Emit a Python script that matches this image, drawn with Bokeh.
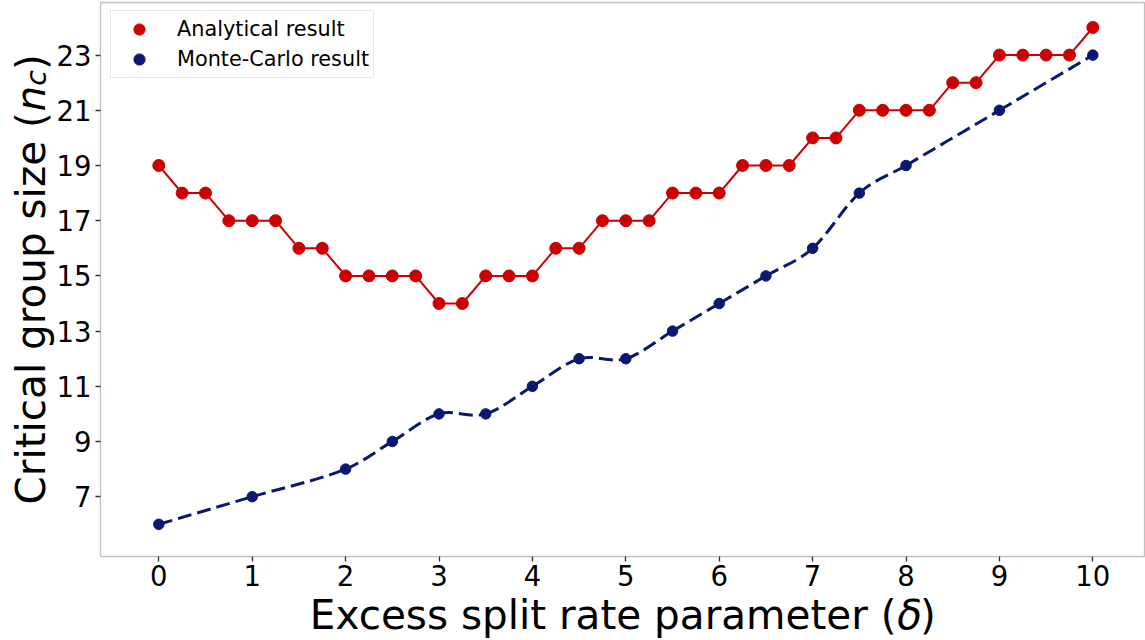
import numpy as np
from bokeh.plotting import figure
from bokeh.models import (Range1d, FixedTicker, Label, Legend, LegendItem,
                          LinearAxis, BoxAnnotation)
from bokeh.embed import file_html
from bokeh.resources import INLINE

# Critical group size versus excess split rate parameter
delta_analytical = [0, 0.25, 0.5, 0.75, 1, 1.25, 1.5, 1.75, 2, 2.25, 2.5, 2.75,
                    3, 3.25, 3.5, 3.75, 4, 4.25, 4.5, 4.75, 5, 5.25, 5.5, 5.75,
                    6, 6.25, 6.5, 6.75, 7, 7.25, 7.5, 7.75, 8, 8.25, 8.5, 8.75,
                    9, 9.25, 9.5, 9.75, 10]
nc_analytical = [19, 18, 18, 17, 17, 17, 16, 16, 15, 15, 15, 15,
                 14, 14, 15, 15, 15, 16, 16, 17, 17, 17, 18, 18,
                 18, 19, 19, 19, 20, 20, 21, 21, 21, 21, 22, 22,
                 23, 23, 23, 23, 24]

delta_mc = [0, 1, 2, 2.5, 3, 3.5, 4, 4.5, 5, 5.5, 6, 6.5, 7, 7.5, 8, 9, 10]
nc_mc = [6, 7, 8, 9, 10, 10, 11, 12, 12, 13, 14, 15, 16, 18, 19, 21, 23]

x_ticks = [0, 1, 2, 3, 4, 5, 6, 7, 8, 9, 10]
y_ticks = [7, 9, 11, 13, 15, 17, 19, 21, 23]

# axes box limits (data units)
x_lim = (-0.624, 10.553)
y_lim = (4.833, 24.906)

FONT = "DejaVu Sans"
RED = "#cc0000"
BLUE = "#0b1872"
SPINE = "#333333"

# The drawing area spans the whole page; the axes box sits inside it so the
# axis titles (with italic symbols) can be placed freely around it.
p = figure(width=1145, height=640, output_backend="svg", toolbar_location=None,
           x_range=Range1d(-1.6949, 10.564), y_range=Range1d(1.790, 24.978),
           x_axis_location=None, y_axis_location=None,
           min_border=0, min_border_left=0, min_border_right=0,
           min_border_top=0, min_border_bottom=0)
p.grid.visible = False
p.background_fill_color = "white"
p.border_fill_color = "white"
p.outline_line_color = None

xaxis = LinearAxis(fixed_location=y_lim[0], bounds=x_lim,
                   ticker=FixedTicker(ticks=x_ticks), major_label_standoff=3)
yaxis = LinearAxis(fixed_location=x_lim[0], bounds=y_lim,
                   ticker=FixedTicker(ticks=y_ticks), major_label_standoff=4)
for ax in (xaxis, yaxis):
    ax.axis_line_color = None
    ax.major_tick_out = 5
    ax.major_tick_in = 0
    ax.minor_tick_out = 0
    ax.minor_tick_in = 0
    ax.major_tick_line_color = SPINE
    ax.major_tick_line_width = 1.3
    ax.major_label_text_font = FONT
    ax.major_label_text_font_size = "27.5px"
    ax.major_label_text_color = "black"
p.add_layout(xaxis, "below")
p.add_layout(yaxis, "left")

# axes box (spines)
p.add_layout(BoxAnnotation(left=x_lim[0], right=x_lim[1], bottom=y_lim[0], top=y_lim[1],
                           fill_alpha=0, line_color=SPINE, line_width=1.3))

# Monte-Carlo curve: cubic Hermite segments drawn as Bezier curves
xm = np.array(delta_mc, dtype=float)
ym = np.array(nc_mc, dtype=float)
slope = np.empty_like(ym)
slope[1:-1] = (ym[2:] - ym[:-2]) / (xm[2:] - xm[:-2])
slope[0] = (ym[1] - ym[0]) / (xm[1] - xm[0])
slope[-1] = (ym[-1] - ym[-2]) / (xm[-1] - xm[-2])
h = np.diff(xm)
p.bezier(x0=xm[:-1], y0=ym[:-1], x1=xm[1:], y1=ym[1:],
         cx0=xm[:-1] + h / 3, cy0=ym[:-1] + slope[:-1] * h / 3,
         cx1=xm[1:] - h / 3, cy1=ym[1:] - slope[1:] * h / 3,
         line_color=BLUE, line_width=3, line_dash="14 6")

# Analytical result: connected markers
p.line(delta_analytical, nc_analytical, line_color=RED, line_width=2)
red_pts = p.scatter(delta_analytical, nc_analytical, size=12,
                    fill_color=RED, line_color=RED)
blue_pts = p.scatter(delta_mc, nc_mc, size=10.5,
                     fill_color=BLUE, line_color=BLUE)

legend = Legend(items=[LegendItem(label="Analytical result", renderers=[red_pts]),
                       LegendItem(label="Monte-Carlo result", renderers=[blue_pts])],
                location=(110, 562), padding=4, spacing=2,
                glyph_width=48, glyph_height=28, label_standoff=14,
                label_height=28,
                label_text_font=FONT, label_text_font_size="20.8px",
                label_text_color="black",
                border_line_color="#cccccc", border_line_width=1,
                background_fill_color="white", background_fill_alpha=0.8)
p.add_layout(legend)

# Axis titles, composed so the math symbols can be set in italics
label_kw = dict(x_units="screen", y_units="screen", text_font=FONT,
                text_color="black", text_baseline="alphabetic", text_align="left")

p.add_layout(Label(x=309.3, y=26, text="Excess split rate parameter (",
                   text_font_size="40.5px", **label_kw))
p.add_layout(Label(x=896.8, y=26, text="δ", text_font_style="italic",
                   text_font_size="40.5px", **label_kw))
p.add_layout(Label(x=919.5, y=26, text=")",
                   text_font_size="40.5px", **label_kw))

rot = np.pi / 2
p.add_layout(Label(x=30.5, y=136, text="Critical group size (", angle=rot,
                   text_font_size="40.5px", **label_kw))
p.add_layout(Label(x=30.5, y=529.1, text="n", angle=rot, text_font_style="italic",
                   text_font_size="40.5px", **label_kw))
p.add_layout(Label(x=36, y=554.8, text="c", angle=rot, text_font_style="italic",
                   text_font_size="28.35px", **label_kw))
p.add_layout(Label(x=30.5, y=570.4, text=")", angle=rot,
                   text_font_size="40.5px", **label_kw))

open("out.html", "w").write(file_html(p, INLINE))
